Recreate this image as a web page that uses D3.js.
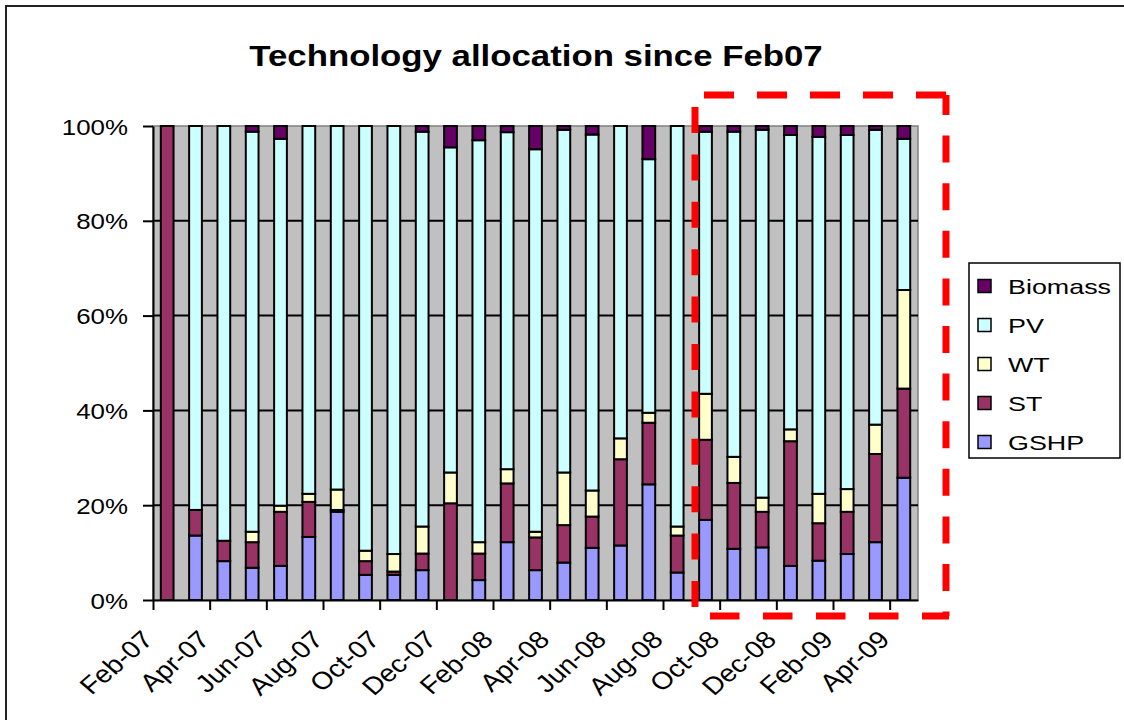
<!DOCTYPE html>
<html>
<head>
<meta charset="utf-8">
<script src="https://cdn.jsdelivr.net/npm/d3@7"></script>
<style>
  body { margin: 0; background: #fff; }
  svg { display: block; }
  text { font-family: Arial, "Liberation Sans", sans-serif; fill: #000; }
</style>
</head>
<body>
<div id="chart"></div>
<script>
// monthly share of each technology (%)
const months = ["Feb-07","Mar-07","Apr-07","May-07","Jun-07","Jul-07","Aug-07","Sep-07","Oct-07",
  "Nov-07","Dec-07","Jan-08","Feb-08","Mar-08","Apr-08","May-08","Jun-08","Jul-08","Aug-08",
  "Sep-08","Oct-08","Nov-08","Dec-08","Jan-09","Feb-09","Mar-09","Apr-09"];
const gshp    = [0, 13.6, 8.2, 6.8, 7.2, 13.3, 18.6, 5.3, 5.3, 6.3, 0, 4.2, 12.2, 6.3, 7.9, 11.0, 11.5, 24.4, 5.8, 16.9, 10.8, 11.1, 7.2, 8.3, 9.7, 12.2, 25.8];
const st      = [100, 5.4, 4.3, 5.4, 11.4, 7.4, 0.4, 2.9, 0.7, 3.5, 20.4, 5.6, 12.4, 6.9, 7.9, 6.6, 18.2, 13.0, 7.8, 16.9, 13.9, 7.5, 26.3, 7.9, 8.9, 18.6, 18.8];
const wt      = [0, 0, 0, 2.2, 1.3, 1.7, 4.3, 2.2, 3.7, 5.7, 6.5, 2.4, 3.0, 1.2, 11.1, 5.5, 4.4, 2.1, 1.9, 9.7, 5.5, 3.0, 2.5, 6.2, 4.8, 6.2, 20.8];
const pv      = [0, 81.0, 87.5, 84.4, 77.4, 77.6, 76.7, 89.6, 90.3, 83.3, 68.6, 84.8, 71.1, 80.7, 72.3, 75.1, 65.9, 53.5, 84.5, 55.3, 68.6, 77.6, 62.1, 75.3, 74.7, 62.2, 31.9];
const biomass = [0, 0, 0, 1.2, 2.7, 0, 0, 0, 0, 1.2, 4.5, 3.0, 1.3, 4.9, 0.8, 1.8, 0, 7.0, 0, 1.2, 1.2, 0.8, 1.9, 2.3, 1.9, 0.8, 2.7];

const keys = ["GSHP", "ST", "WT", "PV", "Biomass"];
const colors = ["#9999FF", "#993366", "#FFFFCC", "#CCFFFF", "#660066"];
const yTicks = [0, 0.2, 0.4, 0.6, 0.8, 1];
const legendOrder = ["Biomass", "PV", "WT", "ST", "GSHP"];

const width = 1124, height = 720;
const plot = { left: 153, right: 918, top: 126, bottom: 600 };
const sx = 1.15; // the original picture is stretched sideways

const data = months.map((m, i) => ({
  month: m, GSHP: gshp[i], ST: st[i], WT: wt[i], PV: pv[i], Biomass: biomass[i]
}));

const series = d3.stack().keys(keys).offset(d3.stackOffsetExpand)(data);
const color = d3.scaleOrdinal().domain(keys).range(colors);

const svg = d3.select("#chart").append("svg")
  .attr("width", width)
  .attr("height", height);

// outer chart frame (only left and top edges are in view)
svg.append("path")
  .attr("d", `M6,${height} V6 H${width}`)
  .attr("fill", "none")
  .attr("stroke", "#222")
  .attr("stroke-width", 2);

const x = d3.scaleBand()
  .domain(months)
  .range([plot.left, plot.right])
  .paddingInner(0.55)
  .paddingOuter(0.275);

// month index scale for the tick marks between categories
const xi = d3.scaleLinear()
  .domain([0, months.length])
  .range([plot.left, plot.right]);

const y = d3.scaleLinear()
  .domain([0, 1])
  .range([plot.bottom, plot.top]);

svg.append("rect")
  .attr("x", plot.left)
  .attr("y", plot.top)
  .attr("width", plot.right - plot.left)
  .attr("height", plot.bottom - plot.top)
  .attr("fill", "#C0C0C0")
  .attr("stroke", "#808080")
  .attr("stroke-width", 1.5);

svg.append("g")
  .selectAll("line")
  .data(yTicks.filter(d => d > 0 && d < 1))
  .join("line")
  .attr("x1", plot.left)
  .attr("x2", plot.right)
  .attr("y1", d => y(d))
  .attr("y2", d => y(d))
  .attr("stroke", "#000")
  .attr("stroke-width", 2);

svg.append("g")
  .selectAll("g")
  .data(series)
  .join("g")
  .attr("fill", d => color(d.key))
  .selectAll("rect")
  .data(d => d.filter(s => s[1] - s[0] > 0))
  .join("rect")
  .attr("x", d => x(d.data.month))
  .attr("y", d => y(d[1]))
  .attr("height", d => y(d[0]) - y(d[1]))
  .attr("width", x.bandwidth())
  .attr("stroke", "#000")
  .attr("stroke-width", 2);

// y axis
const yAxis = svg.append("g")
  .attr("transform", `translate(${plot.left},0)`)
  .call(d3.axisLeft(y).tickValues(yTicks).tickFormat(d3.format(".0%")).tickSize(10).tickSizeOuter(0));
yAxis.select(".domain").attr("stroke", "#000").attr("stroke-width", 2);
yAxis.selectAll(".tick line").attr("stroke", "#000").attr("stroke-width", 2);
yAxis.selectAll(".tick text")
  .attr("x", null).attr("dy", null)
  .attr("transform", `translate(-25,8) scale(${sx},1)`)
  .style("font-size", "22.5px")
  .style("font-family", "Arial, 'Liberation Sans', sans-serif")
  .attr("fill", "#000");

// x axis, ticks every second month boundary
const tickIdx = d3.range(0, months.length, 2);
const xAxis = svg.append("g")
  .attr("transform", `translate(0,${plot.bottom})`)
  .call(d3.axisBottom(xi).tickValues(tickIdx).tickFormat(i => months[i]).tickSize(10).tickSizeOuter(0));
xAxis.select(".domain").attr("stroke", "#000").attr("stroke-width", 2);
xAxis.selectAll(".tick line").attr("stroke", "#000").attr("stroke-width", 2);
xAxis.selectAll(".tick text")
  .attr("y", null).attr("dy", null)
  .attr("text-anchor", "end")
  .attr("transform", `translate(1,41) scale(${sx},1) rotate(-45)`)
  .style("font-size", "24.5px")
  .style("font-family", "Arial, 'Liberation Sans', sans-serif")
  .attr("fill", "#000");

// title
svg.append("text")
  .attr("transform", `translate(536,66) scale(1.16,1)`)
  .attr("text-anchor", "middle")
  .style("font-size", "30px")
  .style("font-weight", "bold")
  .text("Technology allocation since Feb07");

// highlighted period, each edge dashed on its own
const box = { x0: 695, x1: 946, y0: 95, y1: 616 };
const edges = [
  { x1: box.x1, y1: box.y0, x2: box.x0, y2: box.y0, dash: "30,23", offset: 0 },
  { x1: box.x1, y1: box.y0, x2: box.x1, y2: box.y1, dash: "27,20.6", offset: 7 },
  { x1: box.x0, y1: box.y1, x2: box.x1 + 3, y2: box.y1, dash: "29.5,23.5", offset: 38 },
  { x1: box.x0, y1: box.y0, x2: box.x0, y2: box.y1, dash: "26,21.4", offset: 35.4 }
];
svg.append("g")
  .selectAll("line")
  .data(edges)
  .join("line")
  .attr("x1", d => d.x1).attr("y1", d => d.y1)
  .attr("x2", d => d.x2).attr("y2", d => d.y2)
  .attr("stroke", "#FF0000")
  .attr("stroke-width", 7)
  .attr("stroke-dasharray", d => d.dash)
  .attr("stroke-dashoffset", d => d.offset);

// legend
const legend = svg.append("g").attr("transform", "translate(969,263)");
legend.append("rect")
  .attr("width", 151)
  .attr("height", 195)
  .attr("fill", "#fff")
  .attr("stroke", "#000")
  .attr("stroke-width", 1.5);

const item = legend.selectAll("g.item")
  .data(legendOrder)
  .join("g")
  .attr("class", "item")
  .attr("transform", (d, i) => `translate(0,${23 + i * 39})`);

item.append("rect")
  .attr("x", 9)
  .attr("y", -6.5)
  .attr("width", 13)
  .attr("height", 13)
  .attr("fill", d => color(d))
  .attr("stroke", "#000")
  .attr("stroke-width", 1.5);

item.append("text")
  .attr("transform", `translate(39,8) scale(1.28,1)`)
  .style("font-size", "21px")
  .text(d => d);
</script>
</body>
</html>
